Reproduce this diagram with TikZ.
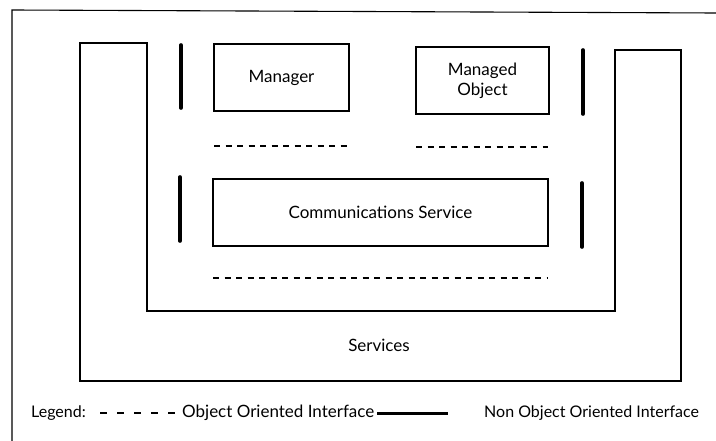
\documentclass[tikz,border=0pt]{standalone}
\usepackage{fontspec}
\setmainfont{Lato}
\begin{document}
\begin{tikzpicture}[x=1pt,y=-1pt,
  box/.style={draw, line width=1.1pt, minimum height=67pt, inner sep=0pt, align=center, font=\fontsize{17}{20}\selectfont},
  lbl/.style={inner sep=0pt, font=\fontsize{16}{19}\selectfont},
  big/.style={lbl, font=\fontsize{17}{20}\selectfont},
  frame/.style={line width=1.1pt},
  bar/.style={line width=3.6pt, line cap=round},
  oo/.style={line width=1.2pt, dash pattern=on 6pt off 5.5pt}]
\useasboundingbox (0,0) rectangle (716,441);
% outer frame
\draw[frame] (12,441) -- (12,10) -- (716,13);
% services U shape
\draw[frame] (80,43) -- (147,43) -- (147,311) -- (615,311) -- (615,50) -- (681,50) -- (681,381) -- (80,381) -- cycle;
\node[big] (services) at (379,345) {Services};
% boxes
\node[box, minimum width=135pt] (mgr) at (281.5,77.5) {Manager};
\node[box, minimum width=133pt] (mo) at (482.5,80.5) {Managed\\Object};
\node[box, minimum width=335pt] (cs) at (380.5,212.5) {Communications Service};
% non object oriented interfaces
\draw[bar] (181,45) -- (181,108);
\draw[bar] (583,50) -- (583,114);
\draw[bar] (180,177) -- (180,241);
\draw[bar] (582,183) -- (582,247);
% object oriented interfaces
\draw[oo] (214,146) -- (349,146);
\draw[oo] (416,147) -- (548,147);
\draw[oo] (213,278) -- (547,278);
% legend
\node[lbl, anchor=west] (leg) at (31,413) {Legend:};
\coordinate (d1) at (100,413);
\coordinate (d2) at (178,413);
\draw[line width=1.2pt, dash pattern=on 7pt off 10pt] (d1) -- (d2);
\node[big, anchor=west] (ooi) at (182,413) {Object Oriented Interface};
\coordinate (t1) at (377,413);
\coordinate (t2) at (448,413);
\draw[line width=3pt] (t1) -- (t2);
\node[lbl, anchor=west] (nooi) at (484,413) {Non Object Oriented Interface};
\end{tikzpicture}
\end{document}
